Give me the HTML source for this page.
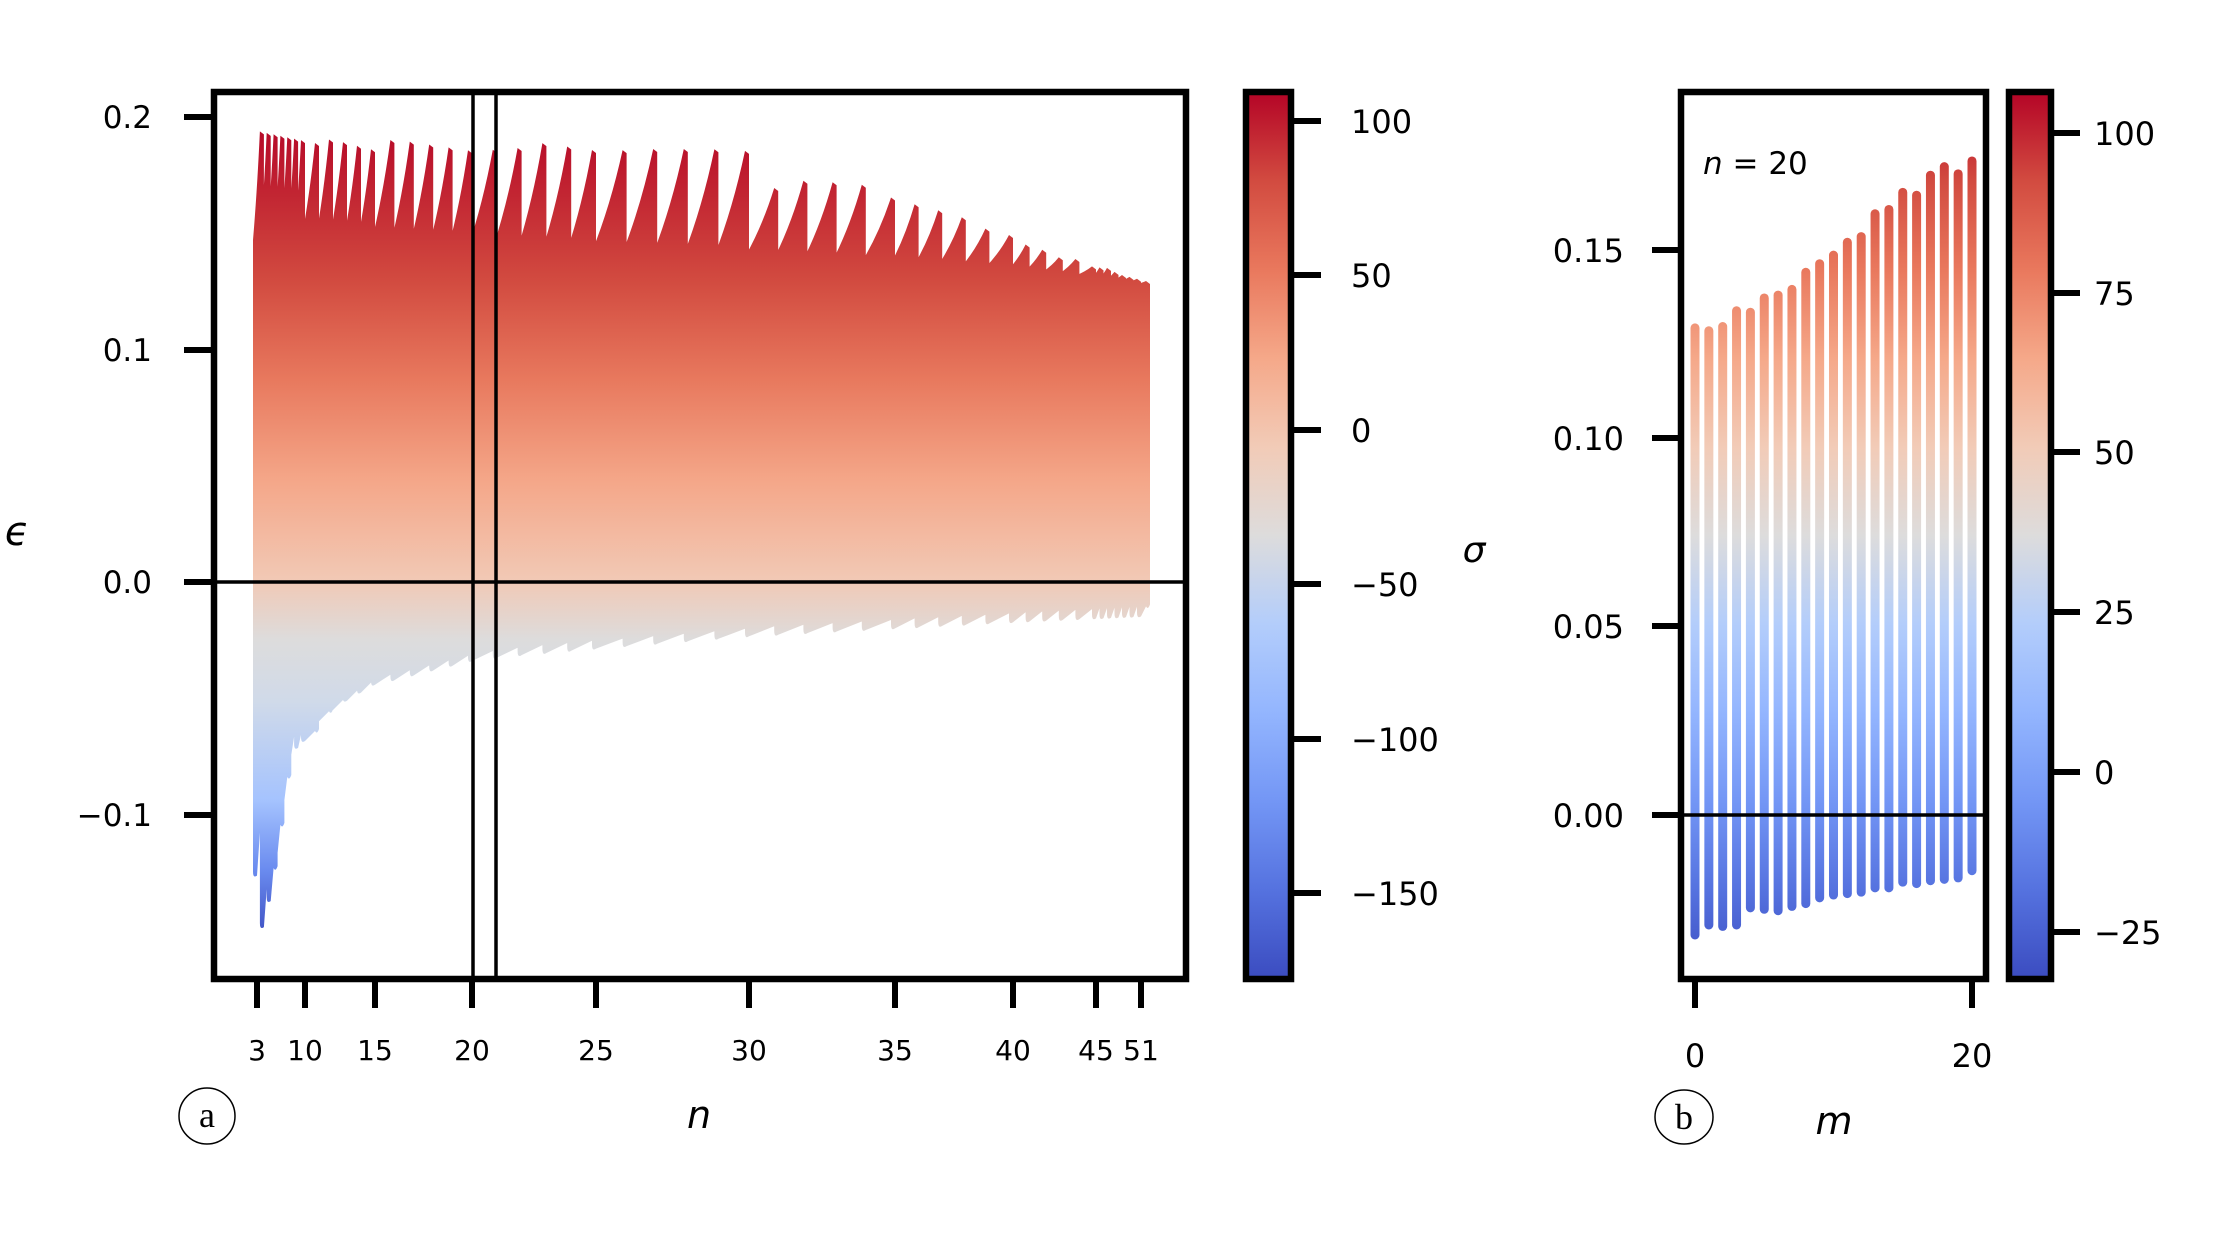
<!DOCTYPE html>
<html><head><meta charset="utf-8"><style>
html,body{margin:0;padding:0;background:#fff;}
svg{display:block;}
text{font-family:"DejaVu Sans","Liberation Sans",sans-serif;fill:#000;}
text.serif{font-family:"Liberation Serif","DejaVu Serif",serif;}
</style></head><body>
<svg id="s" width="2237" height="1235" viewBox="0 0 2237 1235" xmlns="http://www.w3.org/2000/svg">
<defs>
<linearGradient id="cw" x1="0" y1="1" x2="0" y2="0">
<stop offset="0" stop-color="#3b4cc0"/><stop offset="0.1" stop-color="#5572df"/>
<stop offset="0.2" stop-color="#7396f5"/><stop offset="0.3" stop-color="#93b5fe"/>
<stop offset="0.4" stop-color="#b3cdfb"/><stop offset="0.5" stop-color="#dddcdc"/>
<stop offset="0.6" stop-color="#f2cbb7"/><stop offset="0.7" stop-color="#f5a889"/>
<stop offset="0.8" stop-color="#e9785d"/><stop offset="0.9" stop-color="#d24b40"/>
<stop offset="1" stop-color="#b40426"/></linearGradient>
<linearGradient id="cwb" gradientUnits="userSpaceOnUse" x1="0" y1="979" x2="0" y2="92">
<stop offset="0" stop-color="#3b4cc0"/><stop offset="0.1" stop-color="#5572df"/>
<stop offset="0.2" stop-color="#7396f5"/><stop offset="0.3" stop-color="#93b5fe"/>
<stop offset="0.4" stop-color="#b3cdfb"/><stop offset="0.5" stop-color="#dddcdc"/>
<stop offset="0.6" stop-color="#f2cbb7"/><stop offset="0.7" stop-color="#f5a889"/>
<stop offset="0.8" stop-color="#e9785d"/><stop offset="0.9" stop-color="#d24b40"/>
<stop offset="1" stop-color="#b40426"/></linearGradient>
<linearGradient id="ga" gradientUnits="userSpaceOnUse" x1="0" y1="940" x2="0" y2="117">
<stop offset="0" stop-color="#3b4cc0"/><stop offset="0.085" stop-color="#6a8bef"/>
<stop offset="0.17" stop-color="#a5c3fe"/><stop offset="0.29" stop-color="#d0dae9"/>
<stop offset="0.365" stop-color="#dddcdc"/><stop offset="0.44" stop-color="#f2c8b4"/>
<stop offset="0.56" stop-color="#f4a688"/><stop offset="0.68" stop-color="#e8795e"/>
<stop offset="0.8" stop-color="#d24b40"/><stop offset="1" stop-color="#b40426"/>
</linearGradient>
</defs>
<g id="bars"></g>
<!-- panel a -->
<line x1="214" y1="582" x2="1186" y2="582" stroke="#000" stroke-width="3.5"/>
<line x1="473" y1="92" x2="473" y2="979" stroke="#000" stroke-width="3.5"/>
<line x1="496" y1="92" x2="496" y2="979" stroke="#000" stroke-width="3.5"/>
<rect x="214" y="92" width="972" height="887" fill="none" stroke="#000" stroke-width="6.5"/>
<g stroke="#000" stroke-width="6">
<line x1="184" y1="117" x2="214" y2="117"/><line x1="184" y1="350" x2="214" y2="350"/>
<line x1="184" y1="582" x2="214" y2="582"/><line x1="184" y1="815" x2="214" y2="815"/>
</g>
<g font-size="31" text-anchor="end">
<text x="152" y="128">0.2</text><text x="152" y="361">0.1</text>
<text x="152" y="593">0.0</text><text x="152" y="826">−0.1</text>
</g>
<g id="xt" stroke="#000" stroke-width="6"></g>
<g id="xl" font-size="28" text-anchor="middle"></g>
<text x="17" y="545" font-size="40" font-style="italic" text-anchor="middle">ϵ</text>
<text x="699" y="1128" font-size="38" font-style="italic" text-anchor="middle">n</text>
<circle cx="207" cy="1116" r="28" fill="none" stroke="#000" stroke-width="1.5"/>
<text x="207" y="1127" font-size="36" text-anchor="middle" class="serif">a</text>
<!-- colorbar a -->
<rect x="1246" y="92" width="45" height="887" fill="url(#cw)" stroke="#000" stroke-width="6.5"/>
<g stroke="#000" stroke-width="6">
<line x1="1291" y1="121" x2="1321" y2="121"/><line x1="1291" y1="275" x2="1321" y2="275"/>
<line x1="1291" y1="430" x2="1321" y2="430"/><line x1="1291" y1="584" x2="1321" y2="584"/>
<line x1="1291" y1="739" x2="1321" y2="739"/><line x1="1291" y1="893" x2="1321" y2="893"/>
</g>
<g font-size="32">
<text x="1351" y="133">100</text><text x="1351" y="287">50</text><text x="1351" y="442">0</text>
<text x="1351" y="596">−50</text><text x="1351" y="751">−100</text><text x="1351" y="905">−150</text>
</g>
<text x="1474" y="562" font-size="36" font-style="italic" text-anchor="middle">σ</text>
<!-- panel b -->
<g id="bbars"></g>
<line x1="1681" y1="815" x2="1986" y2="815" stroke="#000" stroke-width="3.5"/>
<rect x="1681" y="92" width="305" height="887" fill="none" stroke="#000" stroke-width="6.5"/>
<g stroke="#000" stroke-width="6">
<line x1="1652" y1="250" x2="1681" y2="250"/><line x1="1652" y1="438" x2="1681" y2="438"/>
<line x1="1652" y1="626" x2="1681" y2="626"/><line x1="1652" y1="815" x2="1681" y2="815"/>
<line x1="1695" y1="979" x2="1695" y2="1008"/><line x1="1972" y1="979" x2="1972" y2="1008"/>
</g>
<g font-size="32" text-anchor="end">
<text x="1624" y="262">0.15</text><text x="1624" y="450">0.10</text>
<text x="1624" y="638">0.05</text><text x="1624" y="827">0.00</text>
</g>
<g font-size="32" text-anchor="middle">
<text x="1695" y="1067">0</text><text x="1972" y="1067">20</text>
</g>
<text x="1703" y="174" font-size="31"><tspan font-style="italic">n</tspan> = 20</text>
<text x="1834" y="1134" font-size="38" font-style="italic" text-anchor="middle">m</text>
<ellipse cx="1684" cy="1117" rx="29" ry="27" fill="none" stroke="#000" stroke-width="1.5"/>
<text x="1684" y="1129" font-size="36" text-anchor="middle" class="serif">b</text>
<!-- colorbar b -->
<rect x="2009" y="92" width="42" height="887" fill="url(#cw)" stroke="#000" stroke-width="6.5"/>
<g stroke="#000" stroke-width="6">
<line x1="2051" y1="133" x2="2080" y2="133"/><line x1="2051" y1="293" x2="2080" y2="293"/>
<line x1="2051" y1="452" x2="2080" y2="452"/><line x1="2051" y1="612" x2="2080" y2="612"/>
<line x1="2051" y1="772" x2="2080" y2="772"/><line x1="2051" y1="932" x2="2080" y2="932"/>
</g>
<g font-size="32">
<text x="2094" y="145">100</text><text x="2094" y="305">75</text><text x="2094" y="464">50</text>
<text x="2094" y="624">25</text><text x="2094" y="784">0</text><text x="2094" y="944">−25</text>
</g>
</svg>
<script>
(function(){
var NS="http://www.w3.org/2000/svg";
function interp(t,x){if(x<=t[0][0])return t[0][1];for(var i=1;i<t.length;i++){if(x<=t[i][0]){var a=t[i-1],b=t[i];return a[1]+(b[1]-a[1])*(x-a[0])/(b[0]-a[0]);}}return t[t.length-1][1];}
var ticks=[[3,257],[10,305],[15,375],[20,472],[25,596],[30,749],[35,895],[40,1013],[45,1096],[51,1141]];
var peak=[[253,130],[315,143],[331,139],[374,150],[392,139],[473,151],[518,148],[543,143],[599,151],[653,149],[711,149],[746,151],[778,193],[809,178],[837,183],[866,185],[894,199],[918,205],[945,212],[967,219],[988,230],[1009,235],[1030,247],[1048,251],[1062,259],[1079,259],[1093,267],[1108,268],[1118,274],[1146,281]];
var trough=[[253,240],[700,255],[1000,268],[1146,283]];
var bot=[[253,860],[258,938],[268,900],[272,872],[281,805],[285,758],[295,748],[306,737],[318,718],[345,700],[375,683],[393,680],[432,670],[473,660],[520,655],[600,648],[750,636],[900,628],[1013,622],[1146,616]];
var g=document.getElementById("bars");var d="";
for(var n=3;n<=51;n++){
 var x0=interp(ticks,n)-4, x1=(n<51?interp(ticks,n+1)-4:1146);
 if(n==3)x0=253;
 var pk=interp(peak,x1), tr=Math.max(interp(trough,x0),pk+3);
 var bl=interp(bot,x0+1), dd=Math.max(12,60-5*n), bh=bl-dd;
 var xm=x0+(x1-x0)*0.6, ym=tr-(tr-pk)*0.45;
 d+="M"+x0.toFixed(1)+","+tr.toFixed(1)+" Q"+xm.toFixed(1)+","+ym.toFixed(1)+" "+x1.toFixed(1)+","+pk.toFixed(1)+" L"+(x1+4).toFixed(1)+","+(pk+3).toFixed(1)+" L"+(x1+4).toFixed(1)+","+bh.toFixed(1)+" Q"+(x1+2)+","+(bh+6)+" "+x1.toFixed(1)+","+(bh+2).toFixed(1)+" L"+(x0+4).toFixed(1)+","+(bl).toFixed(1)+" Q"+x0.toFixed(1)+","+(bl+3)+" "+x0.toFixed(1)+","+(bl-4).toFixed(1)+" Z ";
}
var p=document.createElementNS(NS,"path");p.setAttribute("d",d);p.setAttribute("fill","url(#ga)");g.appendChild(p);
var xt=document.getElementById("xt"),xl=document.getElementById("xl");
ticks.forEach(function(t){var l=document.createElementNS(NS,"line");l.setAttribute("x1",t[1]);l.setAttribute("x2",t[1]);l.setAttribute("y1",979);l.setAttribute("y2",1008);xt.appendChild(l);
var tx=document.createElementNS(NS,"text");tx.setAttribute("x",t[1]);tx.setAttribute("y",1060);tx.textContent=t[0];xl.appendChild(tx);});
var tops=[227,229,226,215,216,206,204,200,188,182,176,167,163,147,144,132,134,120,114,119,110];
var bots=[658,651,652,651,639,640,641,638,636,632,630,629,628,625,625,621,622,620,619,618,613];
var bb=document.getElementById("bbars");
for(var m=0;m<=20;m++){var x=1695+m*13.85;var l=document.createElementNS(NS,"line");
l.setAttribute("x1",x);l.setAttribute("x2",x);l.setAttribute("y1",tops[m]*1.427+4);l.setAttribute("y2",bots[m]*1.427-4);
l.setAttribute("stroke","url(#cwb)");l.setAttribute("stroke-width","9");l.setAttribute("stroke-linecap","round");bb.appendChild(l);}
})();
</script>
</body></html>
